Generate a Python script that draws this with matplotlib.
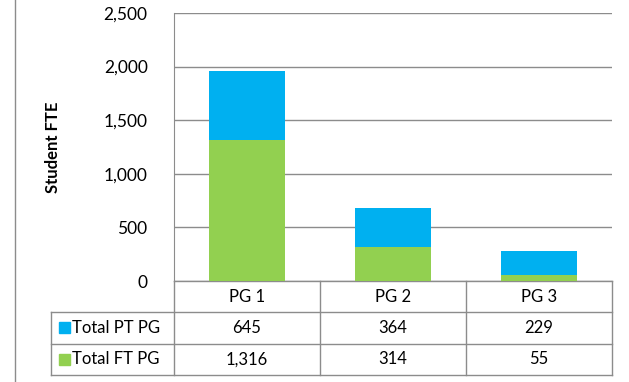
import matplotlib
matplotlib.use("Agg")
import matplotlib.pyplot as plt
import matplotlib.transforms as mtransforms
from matplotlib.patches import Rectangle
from matplotlib.lines import Line2D

categories = ["PG 1", "PG 2", "PG 3"]
total_ft_pg = [1316, 314, 55]
total_pt_pg = [645, 364, 229]
series_names = ["Total PT PG", "Total FT PG"]
yticks = [0, 500, 1000, 1500, 2000, 2500]

BLUE = "#00B0F0"
GREEN = "#92D050"
GRID = "#8C8C8C"

plt.rcParams["font.family"] = ["Lato", "DejaVu Sans"]

W, H = 629, 382
fig = plt.figure(figsize=(W / 100, H / 100), dpi=100)
ax = fig.add_axes([174 / W, 1 - 281 / H, (612 - 174) / W, (281 - 13) / H])

x = list(range(len(categories)))
ax.bar(x, total_ft_pg, width=0.52, color=GREEN, zorder=3)
ax.bar(x, total_pt_pg, width=0.52, bottom=total_ft_pg, color=BLUE, zorder=3)

ax.set_xlim(-0.5, 2.5)
ax.set_ylim(0, 2500)
ax.set_yticks(yticks)
ax.set_yticklabels([f"{v:,}" for v in yticks], fontsize=12.5)
ax.set_xticks([])
ax.tick_params(axis="y", length=0, pad=19)
ax.grid(axis="y", color=GRID, linewidth=1, zorder=0)
for side in ["top", "right", "bottom"]:
    ax.spines[side].set_visible(False)
ax.spines["left"].set_color(GRID)
ax.set_ylabel("Student FTE", fontsize=12, fontweight="bold")
ax.yaxis.set_label_coords(-0.258, 0.5)

# data table below the plot: x in data units, y in axes units
tr = mtransforms.blended_transform_factory(ax.transData, ax.transAxes)
row_h = 31.3 / (281 - 13)
x_lab = -0.5 - (174 - 51) / 146
edges = [-0.5, 0.5, 1.5, 2.5]
kw = dict(transform=tr, color=GRID, linewidth=1, clip_on=False)

# horizontal lines
ax.add_line(Line2D([-0.5, 2.5], [0, 0], **kw))
for i in range(1, 4):
    ax.add_line(Line2D([x_lab, 2.5], [-i * row_h] * 2, **kw))
# vertical lines
for e in edges:
    ax.add_line(Line2D([e, e], [0, -3 * row_h], **kw))
ax.add_line(Line2D([x_lab, x_lab], [-row_h, -3 * row_h], **kw))

for i, c in enumerate(categories):
    ax.text(i, -0.5 * row_h, c, transform=tr, ha="center", va="center", fontsize=12)

rows = [(series_names[0], total_pt_pg, BLUE), (series_names[1], total_ft_pg, GREEN)]
for r, (name, vals, col) in enumerate(rows):
    yc = -(r + 1.5) * row_h
    sq = 11 / 146
    sq_h = 11 / (281 - 13)
    ax.add_patch(Rectangle((x_lab + 8 / 146, yc - sq_h / 2), sq, sq_h,
                           transform=tr, color=col, clip_on=False))
    ax.text(x_lab + 21 / 146, yc, name, transform=tr, ha="left", va="center", fontsize=12)
    for i, v in enumerate(vals):
        ax.text(i, yc, f"{v:,}", transform=tr, ha="center", va="center", fontsize=12)

# left border line of the chart area
fig.add_artist(Line2D([15 / W, 15 / W], [0, 1], color=GRID, linewidth=1))

fig.savefig("out.png", dpi=100, facecolor="white")
